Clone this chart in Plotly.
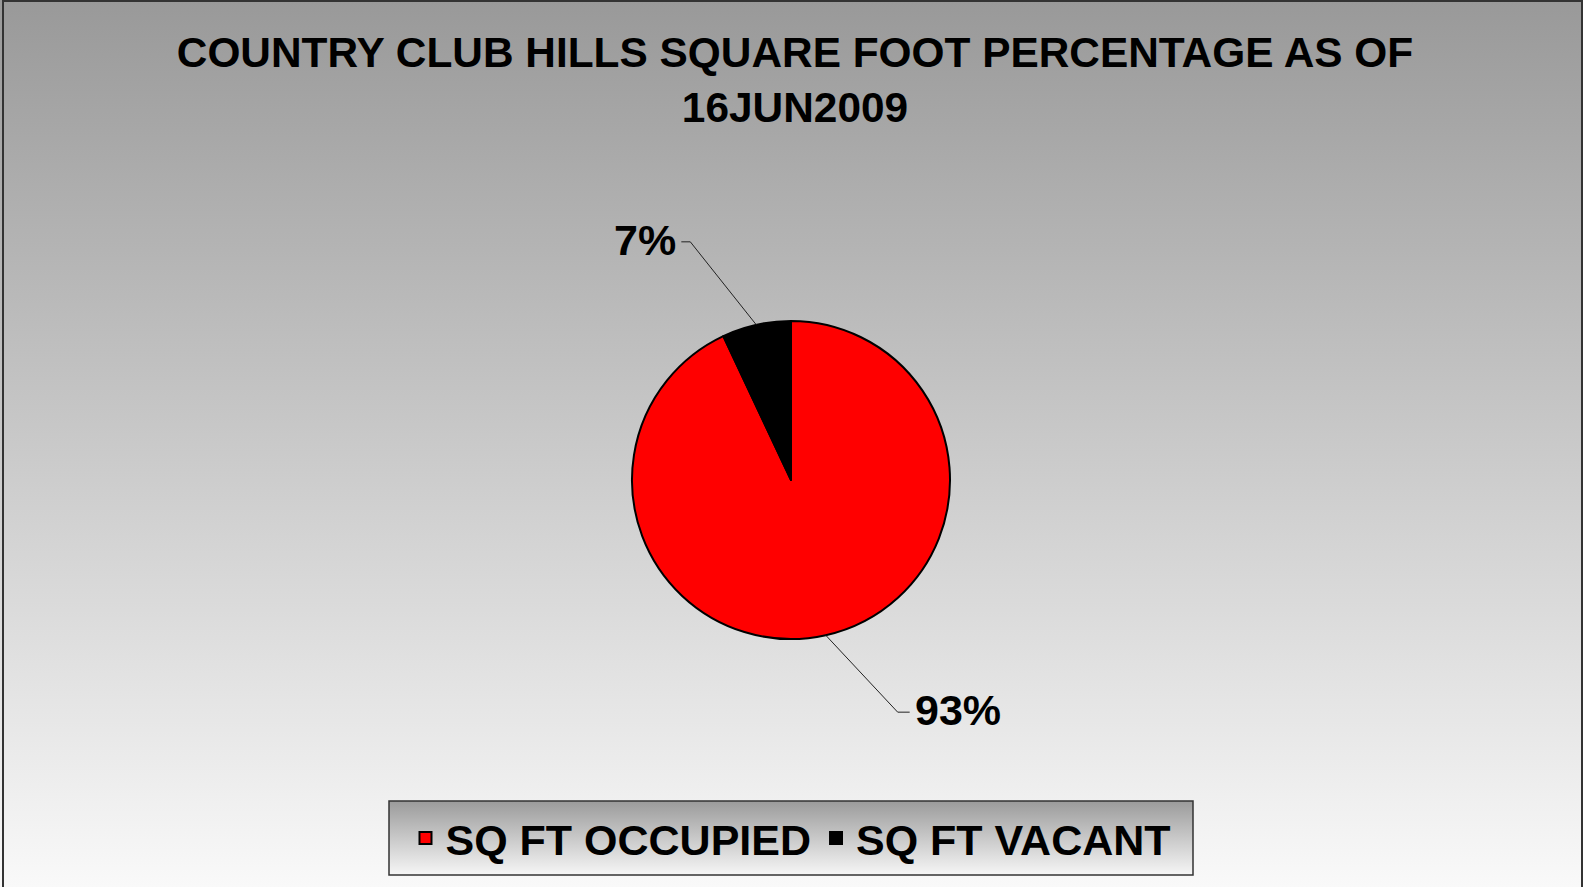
import base64
import math
import plotly.graph_objects as go

# ---------------- data ----------------
categories = ["SQ FT OCCUPIED", "SQ FT VACANT"]
values = [93, 7]
slice_colors = ["#ff0000", "#000000"]
title_lines = ["COUNTRY CLUB HILLS SQUARE FOOT PERCENTAGE AS OF", "16JUN2009"]

# ---------------- layout constants ----------------
W, H = 1583, 887
CX, CY, R = 791, 480, 159          # pie centre / radius in pixels
FONT = "Liberation Sans, Arial, sans-serif"
FS = 43
FS_TITLE = 42.4
# leader line geometry per slice: (elbow dx, elbow dy, horizontal stub)
LEADERS = [(72, 77, 12), (-66, -83, -9)]
LEGEND_BOX = (389, 801, 1193, 875)


def px(x):
    return x / W


def py(y):
    return 1 - y / H


def grad_uri(c0, c1):
    svg = (
        '<svg xmlns="http://www.w3.org/2000/svg" width="100" height="100" '
        'viewBox="0 0 100 100" preserveAspectRatio="none">'
        '<defs><linearGradient id="g" x1="0" y1="0" x2="0" y2="1">'
        f'<stop offset="0" stop-color="{c0}"/><stop offset="1" stop-color="{c1}"/>'
        '</linearGradient></defs><rect width="100" height="100" fill="url(#g)"/></svg>'
    )
    return "data:image/svg+xml;base64," + base64.b64encode(svg.encode()).decode()


fig = go.Figure()
fig.add_trace(
    go.Pie(
        labels=categories,
        values=values,
        sort=False,
        direction="clockwise",
        rotation=0,
        marker=dict(colors=slice_colors, line=dict(color="#000000", width=2)),
        textinfo="none",
        hoverinfo="label+percent",
        domain=dict(x=[px(CX - R), px(CX + R)], y=[py(CY + R), py(CY - R)]),
    )
)

# leader lines + percentage labels derived from the values
total = sum(values)
cum = 0
shapes = []
annotations = []
for v, (edx, edy, stub) in zip(values, LEADERS):
    theta = math.radians(360 * (cum + v / 2) / total)
    cum += v
    x0 = CX + R * math.sin(theta)
    y0 = CY - R * math.cos(theta)
    x1, y1 = x0 + edx, y0 + edy
    x2 = x1 + stub
    shapes.append(dict(
        type="path", xref="paper", yref="paper",
        path=f"M {px(x0)},{py(y0)} L {px(x1)},{py(y1)} L {px(x2)},{py(y1)}",
        line=dict(color="#222222", width=1),
    ))
    annotations.append(dict(
        xref="paper", yref="paper",
        x=px(x2 + (3 if stub > 0 else -3)), y=py(y1 - 2),
        xanchor="left" if stub > 0 else "right", yanchor="middle",
        text=f"{round(100 * v / total)}%", showarrow=False,
        font=dict(family=FONT, size=FS, color="#000000", weight="bold"),
    ))

# legend box border
lx0, ly0, lx1, ly1 = LEGEND_BOX
shapes.append(dict(type="rect", xref="paper", yref="paper",
                   x0=px(lx0), x1=px(lx1), y0=py(ly1), y1=py(ly0),
                   line=dict(color="#333333", width=1.5), layer="above"))
# outer chart border
shapes.append(dict(type="rect", xref="paper", yref="paper",
                   x0=px(3), x1=px(1582), y0=py(895), y1=py(1),
                   line=dict(color="#333333", width=2)))

images = [
    dict(source=grad_uri("#999999", "#f9f9f9"), xref="paper", yref="paper",
         x=0, y=1, sizex=1, sizey=1, xanchor="left", yanchor="top",
         sizing="stretch", layer="below"),
    dict(source=grad_uri("#9b9b9b", "#f6f6f6"), xref="paper", yref="paper",
         x=px(lx0), y=py(ly0), sizex=px(lx1) - px(lx0), sizey=(ly1 - ly0) / H,
         xanchor="left", yanchor="top", sizing="stretch", layer="below"),
]

fig.update_layout(
    width=W, height=H,
    margin=dict(l=0, r=0, t=0, b=0),
    paper_bgcolor="#ffffff",
    plot_bgcolor="rgba(0,0,0,0)",
    title=dict(
        text="<br>".join(title_lines),
        x=px(795), xanchor="center",
        y=py(67), yanchor="middle",
        font=dict(family=FONT, size=FS_TITLE, color="#000000", weight="bold"),
    ),
    showlegend=True,
    legend=dict(
        orientation="h",
        x=px((lx0 + lx1) / 2), xanchor="center",
        y=py((ly0 + ly1) / 2), yanchor="middle",
        bgcolor="rgba(0,0,0,0)", borderwidth=0,
        font=dict(family=FONT, size=FS, color="#000000", weight="bold"),
        traceorder="normal",
    ),
    shapes=shapes,
    annotations=annotations,
    images=images,
)

fig.write_html(
    "out.html",
    config={"displayModeBar": False},
    post_script="document.body.style.margin='0';",
)
